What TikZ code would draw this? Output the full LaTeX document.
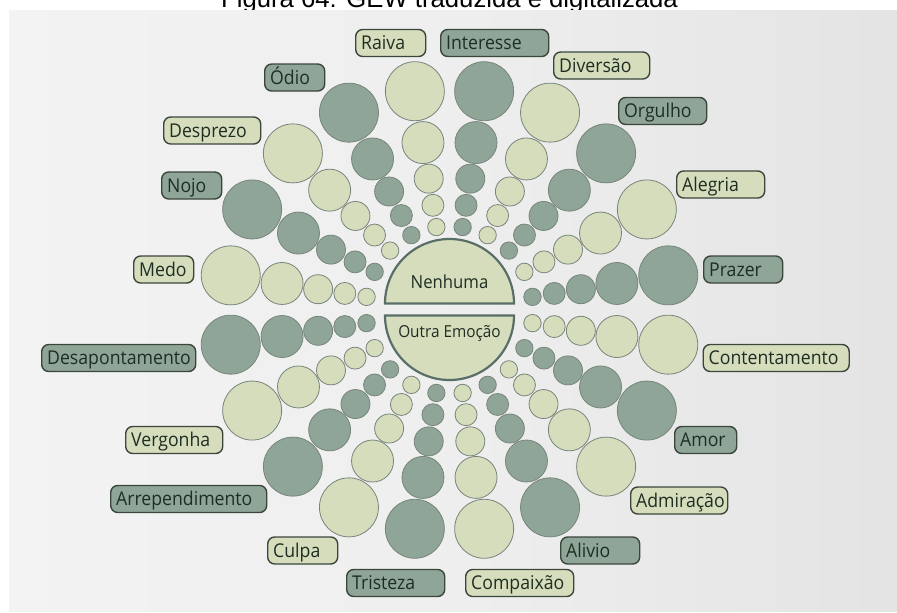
\documentclass[tikz,border=0pt]{standalone}
\usepackage{fontspec}
\setmainfont{Open Sans}[FakeStretch=0.93]
\newfontfamily\titlefont{Liberation Sans}

\definecolor{leafpale}{HTML}{D5DDBD}
\definecolor{leafdark}{HTML}{8EA598}
\definecolor{ringline}{HTML}{77857A}
\definecolor{tagline}{HTML}{3B463B}
\definecolor{inktext}{HTML}{1F2E22}
\definecolor{hubline}{HTML}{5A6E68}

\pgfdeclarehorizontalshading{panelshade}{100bp}{color(0bp)=(gray!6); color(50bp)=(gray!13); color(100bp)=(gray!30)}

\tikzset{
  dot/.style={circle, draw=ringline, line width=0.8pt, inner sep=0pt, minimum size=#1},
  tag/.style={draw=tagline, line width=1.4pt, rounded corners=7pt, minimum height=27pt,
    inner xsep=5.5pt, inner ysep=0pt, align=left, text=inktext, anchor=west,
    text height=13.6pt, text depth=0pt,
    font=\fontsize{19}{21}\selectfont},
  hubtext/.style={text=inktext, inner sep=0pt, text height=12.9pt, text depth=0pt},
  hubhalf/.style={draw=hubline, line width=2.2pt, fill=leafpale},
}

\begin{document}
\begin{tikzpicture}[x=1pt,y=-1pt]
\useasboundingbox (0,0) rectangle (897,613);
\fill[white] (0,0) rectangle (897,613);

% caption line, mostly cut off by the page edge
\node[font=\titlefont\fontsize{25.7}{28}\selectfont, anchor=base, inner sep=0pt] (title) at (449.5,7) {Figura 64: GEW traduzida e digitalizada};

% grey backdrop
\shade[shading=panelshade] (9,10) rectangle (897,611);

% twenty spokes of five circles each
\foreach \k in {0,...,19}{
  \pgfmathsetmacro\ang{18*\k-81}
  \pgfmathtruncatemacro\odd{mod(\k,2)}
  \ifnum\odd=0 \def\tone{leafdark}\else\def\tone{leafpale}\fi
  \foreach \d/\s [count=\i] in {221.5/59, 169.5/42, 133/29, 106/22, 84/17.4}{
    \node[dot=\s pt, fill=\tone] (s\k-\i) at ([shift={(449.5,310)}]\ang:\d) {};
  }
}

% central split circle
\draw[hubhalf] (385,303.5) arc[start angle=180, end angle=360, radius=64.5] -- cycle;
\draw[hubhalf] (385,315.5) arc[start angle=180, end angle=0, radius=64.5] -- cycle;
\node[hubtext, font=\fontsize{18}{20}\selectfont] (none) at (449.5,282) {Nenhuma};
\node[hubtext, font=\fontsize{16.5}{18}\selectfont, text height=11.8pt] (other) at (449.5,332) {Outra Emoção};

% emotion tags
\foreach \nm/\x/\y/\w/\tone/\txt in {
  raiva/355/43/70/leafpale/Raiva,
  interesse/440/43/108/leafdark/Interesse,
  diversao/553/65.5/96/leafpale/Diversão,
  orgulho/618/111/88/leafdark/Orgulho,
  alegria/676/184.5/88/leafpale/Alegria,
  prazer/703/269.5/79/leafdark/Prazer,
  contentamento/702.5/358/146/leafpale/Contentamento,
  amor/674/440/62/leafdark/Amor,
  admiracao/630/500.5/97/leafpale/Admiração,
  alivio/560/550.5/79/leafdark/Alivio,
  compaixao/465/583/108/leafpale/Compaixão,
  tristeza/346/583/98/leafdark/Tristeza,
  culpa/267/550.5/70/leafpale/Culpa,
  arrependimento/110/499/156/leafdark/Arrependimento,
  vergonha/125/440/97/leafpale/Vergonha,
  desapontamento/41/358/154/leafdark/Desapontamento,
  medo/133/269.5/60/leafpale/Medo,
  nojo/161/185.5/60/leafdark/Nojo,
  desprezo/163/130.5/97/leafpale/Desprezo,
  odio/264/77.5/60/leafdark/Ódio}{
  \pgfmathsetmacro\tw{\w-11}
  \node[tag, fill=\tone, text width=\tw pt] (\nm) at (\x,\y) {\txt};
}
\end{tikzpicture}
\end{document}
